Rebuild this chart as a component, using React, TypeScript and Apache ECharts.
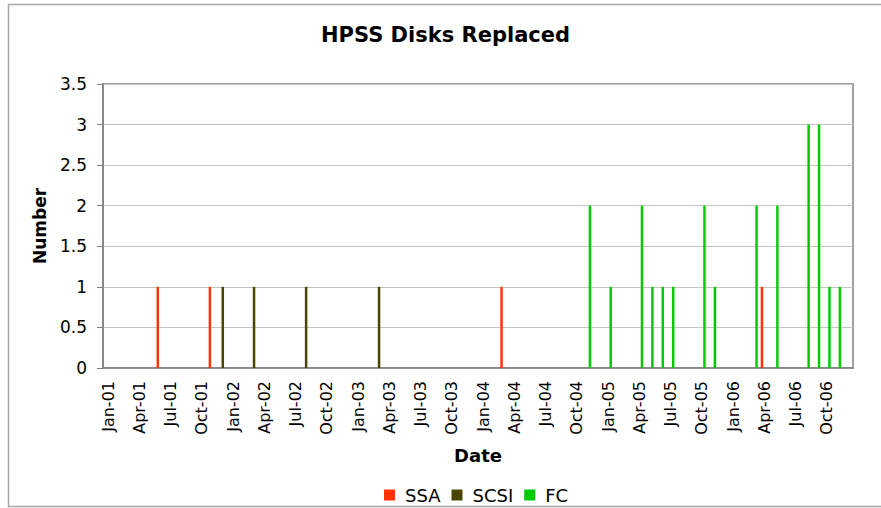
import React, { useEffect, useRef } from "react";
import * as echarts from "echarts";

const monthNames = ["Jan", "Feb", "Mar", "Apr", "May", "Jun", "Jul", "Aug", "Sep", "Oct", "Nov", "Dec"];
const years = ["01", "02", "03", "04", "05", "06"];
const categories: string[] = years.flatMap((y) => monthNames.map((m) => `${m}-${y}`));

const ssaMonths = ["Jun-01", "Nov-01", "Mar-04", "Apr-06"];
const ssaValues = [1, 1, 1, 1];
const scsiMonths = ["Dec-01", "Mar-02", "Aug-02", "Mar-03"];
const scsiValues = [1, 1, 1, 1];
const fcMonths = ["Nov-04", "Jan-05", "Apr-05", "May-05", "Jun-05", "Jul-05", "Oct-05", "Nov-05", "Mar-06", "May-06", "Aug-06", "Sep-06", "Oct-06", "Nov-06"];
const fcValues = [2, 1, 2, 1, 1, 1, 2, 1, 2, 2, 3, 3, 1, 1];

const yTicks = { min: 0, max: 3.5, interval: 0.5 };

function toSeries(months: string[], values: number[]) {
  return categories.map((c) => {
    const i = months.indexOf(c);
    return i >= 0 ? values[i] : null;
  });
}

const FONT = "DejaVu Sans";

export default function App() {
  const ref = useRef<HTMLDivElement>(null);
  useEffect(() => {
    if (!ref.current) return;
    const chart = echarts.init(ref.current, null, { renderer: "svg" });
    const barCommon = { type: "bar" as const, barWidth: 2.5, barGap: "0%" };
    chart.setOption({
      animation: false,
      backgroundColor: "#ffffff",
      title: {
        text: "HPSS Disks Replaced",
        left: 316,
        top: 19,
        textStyle: { fontFamily: FONT, fontSize: 21, fontWeight: "bold", color: "#000" },
      },
      graphic: [
        {
          type: "rect",
          shape: { x: 8.5, y: 4.5, width: 900, height: 502 },
          style: { fill: "none", stroke: "#a8a8a8", lineWidth: 1.5 },
          silent: true,
        },
      ],
      legend: {
        left: 379,
        top: 481,
        icon: "rect",
        itemWidth: 11,
        itemHeight: 11,
        itemGap: 11,
        textStyle: { fontFamily: FONT, fontSize: 18, color: "#000", padding: [0, 0, 0, 5] },
        data: ["SSA", "SCSI", "FC"],
      },
      grid: {
        left: 103,
        right: 28,
        top: 84,
        bottom: 140,
        show: true,
        borderColor: "#a0a0a0",
        borderWidth: 2,
      },
      xAxis: {
        type: "category",
        data: categories,
        boundaryGap: true,
        name: "Date",
        nameLocation: "middle",
        nameGap: 78,
        nameTextStyle: { fontFamily: FONT, fontSize: 18, fontWeight: "bold", color: "#000" },
        axisLine: { lineStyle: { color: "#808080", width: 1.5 } },
        axisTick: { interval: 2, length: 5, lineStyle: { color: "#808080" } },
        axisLabel: {
          interval: 2,
          rotate: 90,
          margin: 13,
          fontFamily: FONT,
          fontSize: 16,
          color: "#000",
        },
        splitLine: { show: false },
      },
      yAxis: {
        type: "value",
        min: yTicks.min,
        max: yTicks.max,
        interval: yTicks.interval,
        name: "Number",
        nameLocation: "middle",
        nameRotate: 90,
        nameGap: 55,
        nameTextStyle: { fontFamily: FONT, fontSize: 17, fontWeight: "bold", color: "#000" },
        axisLine: { show: true, lineStyle: { color: "#808080", width: 1.5 } },
        axisTick: { show: true, length: 6, lineStyle: { color: "#808080" } },
        axisLabel: { margin: 16, fontFamily: FONT, fontSize: 17, color: "#000" },
        splitLine: { lineStyle: { color: "#c4c4c4", width: 1 } },
      },
      series: [
        { ...barCommon, name: "SSA", data: toSeries(ssaMonths, ssaValues), itemStyle: { color: "#FF3300" } },
        { ...barCommon, name: "SCSI", data: toSeries(scsiMonths, scsiValues), itemStyle: { color: "#4A4600" } },
        { ...barCommon, name: "FC", data: toSeries(fcMonths, fcValues), itemStyle: { color: "#00CC00" } },
      ],
    });
    return () => chart.dispose();
  }, []);
  return (
    <div
      ref={ref}
      style={{ position: "fixed", left: 0, top: 0, width: 881, height: 508, background: "#fff" }}
    />
  );
}
